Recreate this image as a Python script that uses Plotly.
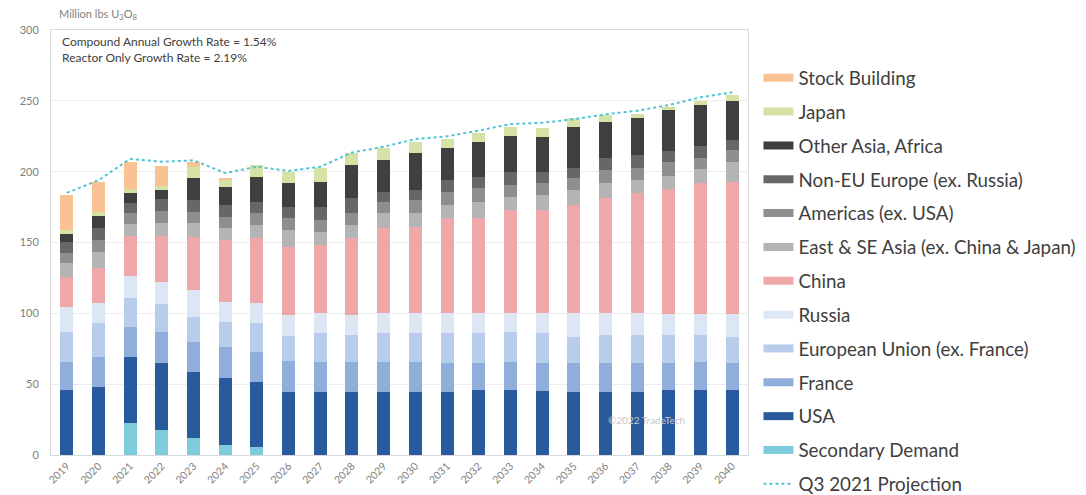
import plotly.graph_objects as go

years = [str(y) for y in range(2019, 2041)]

secondary = [0, 0, 22.6, 17.6, 11.8, 7.1, 5.9, 0, 0, 0, 0, 0, 0, 0, 0, 0, 0, 0, 0, 0, 0, 0]
usa = [45.9, 48, 46.5, 47.3, 47, 47, 45.8, 44.7, 44.7, 44.7, 44.7, 44.7, 44.7, 45.9, 45.9, 45, 44.7, 44.7, 44.7, 45.9, 45.9, 45.9]
france = [19.7, 21, 21, 22, 21.2, 22.3, 21.2, 22, 21.1, 21.1, 21.1, 21, 20, 19, 20, 20, 20, 20, 20, 18.8, 19.9, 18.8]
eu = [21, 24, 21, 20, 17.6, 17.7, 20, 17, 20.1, 18.9, 20.1, 20.3, 21.2, 21, 21.2, 21, 18.8, 20, 20, 20, 18.9, 18.8]
russia = [17.6, 14, 15.5, 15, 18.8, 14.1, 14.2, 15.1, 14.1, 14.1, 14.1, 14, 14.1, 14.1, 13, 14, 16.5, 15.3, 15.3, 15, 15, 16]
china = [21.2, 25, 28, 33, 37.6, 43.5, 45.8, 48.2, 48.2, 54.1, 60, 61.1, 67, 67, 72.8, 72.9, 76.4, 81.2, 84.7, 88, 92.5, 93.5]
east_se_asia = [10, 11, 8.5, 9, 9.5, 8.3, 9.4, 11.8, 9.4, 9.4, 10.6, 9.5, 9.4, 11.8, 9.4, 10.6, 10.6, 10.5, 9.4, 9.4, 9.4, 14.1]
americas = [7, 8.5, 8, 8.5, 8.2, 8.2, 8.3, 8.2, 8.2, 8.3, 8.2, 9.4, 9.4, 9.4, 8.2, 8.2, 8.3, 9.4, 8.2, 9.4, 8.2, 8.2]
non_eu = [7.7, 8.5, 6.5, 8.4, 8.3, 8.2, 8.2, 8.2, 9.4, 10.6, 7, 7, 8.3, 8.2, 9.5, 8.2, 7, 8.3, 9.4, 8.2, 8.3, 7]
other_asia_africa = [5.7, 8.5, 7, 6.3, 15.7, 13, 17.6, 16.5, 17.8, 23.5, 22.4, 25.9, 22.3, 24.7, 25.1, 24.7, 28.9, 25.8, 25.9, 28.8, 28.9, 27.5]
japan = [2.8, 3, 3, 3, 7.8, 5, 8.3, 8.3, 9.3, 8.2, 8.2, 8.2, 6.4, 5.9, 6.6, 5.9, 6.4, 4.8, 3, 2.5, 3, 4]
stock_building = [24.7, 21, 19, 14, 3.5, 1, 0, 0, 0, 0, 0, 0, 0, 0, 0, 0, 0, 0, 0, 0, 0, 0]
q3_2021_projection = [185, 194, 209, 207, 208, 199, 203.5, 200.5, 203.5, 213.5, 217.6, 223, 225, 229, 233.6, 234.5, 237, 240.5, 243, 247, 252.5, 256]

series = [
    ("Secondary Demand", secondary, "#7ECBDC"),
    ("USA", usa, "#2A5A9E"),
    ("France", france, "#8FAEDC"),
    ("European Union (ex. France)", eu, "#B7CDEB"),
    ("Russia", russia, "#DDE6F5"),
    ("China", china, "#EFA8A9"),
    ("East & SE Asia (ex. China & Japan)", east_se_asia, "#B4B4B4"),
    ("Americas (ex. USA)", americas, "#8E8E8E"),
    ("Non-EU Europe (ex. Russia)", non_eu, "#676767"),
    ("Other Asia, Africa", other_asia_africa, "#3F3F3F"),
    ("Japan", japan, "#D5E2A6"),
    ("Stock Building", stock_building, "#F9C293"),
]

fig = go.Figure()
n = len(series)
for i, (name, vals, col) in enumerate(series):
    fig.add_trace(go.Bar(
        x=years, y=vals, name=name, marker=dict(color=col, line=dict(width=0)),
        legendgroup=name, showlegend=False,
    ))
    # legend-only entry drawn as a wide swatch like the original
    fig.add_trace(go.Scatter(
        x=[None], y=[None], name=name, mode="lines",
        line=dict(color=col, width=8), legendgroup=name,
        legendrank=n - i, hoverinfo="skip",
    ))

fig.add_trace(go.Scatter(
    x=years, y=q3_2021_projection, name="Q3 2021 Projection", mode="lines",
    line=dict(color="#4FC4D2", width=2, dash="dot"),
    legendgroup="q3", legendrank=n + 10,
))

# page body has an 8px margin, so the plot area is offset accordingly
fig.update_layout(
    width=1086, height=495, autosize=False,
    barmode="stack", bargap=0.59,
    plot_bgcolor="white", paper_bgcolor="white",
    margin=dict(l=36, r=346, t=22, b=48),
    font=dict(family="Lato", color="#595959"),
    legend=dict(
        x=1.015, xanchor="left", y=0.93, yanchor="top",
        font=dict(family="Lato", size=18.8, color="#404040"),
        tracegroupgap=6.4, itemwidth=30, bgcolor="rgba(0,0,0,0)",
        maxheight=700,
    ),
    showlegend=True,
)

fig.update_yaxes(
    range=[0, 300], tickvals=[0, 50, 100, 150, 200, 250, 300],
    showgrid=True, gridcolor="#EDEDED", gridwidth=1,
    showline=True, linecolor="#D9D9D9", mirror=True,
    ticks="outside", ticklen=9, tickcolor="rgba(0,0,0,0)",
    tickfont=dict(size=11, color="#7F7F7F"), zeroline=False,
)
fig.update_xaxes(
    tickangle=-45, tickfont=dict(size=10.5, color="#7F7F7F"),
    showline=True, linecolor="#D9D9D9", mirror=True, showgrid=False,
)

fig.add_annotation(
    text="Million lbs U<sub>3</sub>O<sub>8</sub>", xref="paper", yref="paper",
    x=(50 - 44) / 704, y=(455 - 15) / 425, xanchor="left", yanchor="middle",
    showarrow=False, font=dict(size=11, color="#7F7F7F"),
)
fig.add_annotation(
    text="Compound Annual Growth Rate = 1.54%<br>Reactor Only Growth Rate = 2.19%",
    xref="paper", yref="paper", x=(53 - 44) / 704, y=(455 - 32) / 425,
    xanchor="left", yanchor="top", align="left", showarrow=False,
    font=dict(size=12, color="#404040"),
)
fig.add_annotation(
    text="©2022 TradeTech", xref="paper", yref="paper",
    x=(645 - 44) / 704, y=(455 - 420) / 425, xanchor="center", yanchor="middle",
    showarrow=False, font=dict(size=10, color="#C8C8C8"),
)

fig.write_html("out.html")
